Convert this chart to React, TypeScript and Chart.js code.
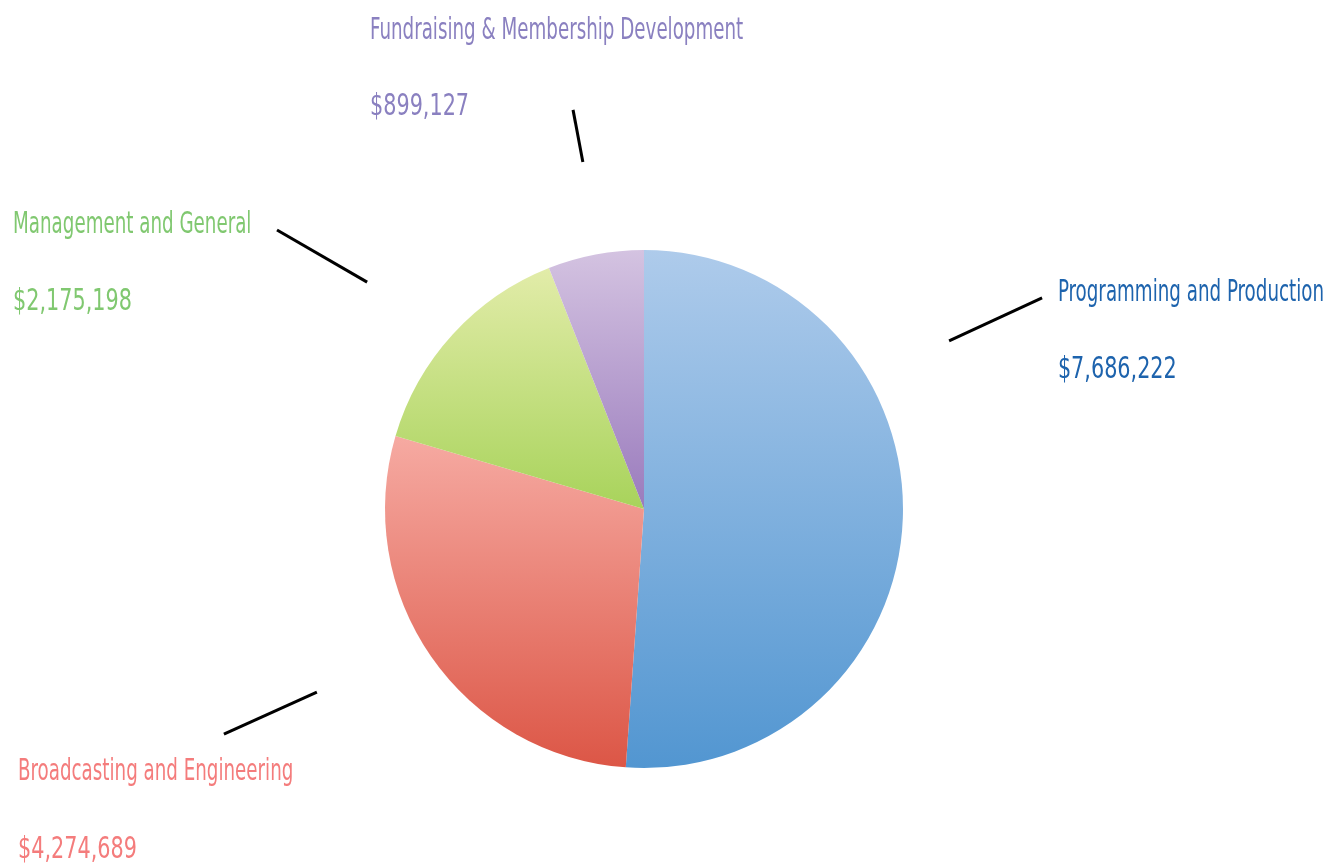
import React, { useEffect, useRef } from "react";
import { Chart, registerables } from "chart.js";

Chart.register(...registerables);

const categories = [
  "Programming and Production",
  "Broadcasting and Engineering",
  "Management and General",
  "Fundraising & Membership Development",
];
const values = [7686222, 4274689, 2175198, 899127];
const valueLabels = ["$7,686,222", "$4,274,689", "$2,175,198", "$899,127"];
const gradientTop = ["#aecbeb", "#f6aaa2", "#e2eca9", "#d4c3e1"];
const gradientBottom = ["#5296d1", "#dc5646", "#a8d35b", "#9a7bbd"];
const textColors = ["#1d63ad", "#f47c7c", "#80c870", "#8a80c0"];

// Leader line & label layout, in units of the pie radius relative to its centre
const leaderLines = [
  [1.178, -0.649, 1.537, -0.815],
  [-1.263, 0.707, -1.622, 0.869],
  [-1.069, -0.876, -1.417, -1.077],
  [-0.236, -1.34, -0.274, -1.541],
];
const labelAnchors = [
  [1.598, -0.803, -0.506],
  [-2.417, 1.046, 1.347],
  [-2.436, -1.066, -0.768],
  [-1.058, -1.815, -1.521],
];

const FONT = '31px "DejaVu Sans Condensed", "DejaVu Sans", sans-serif';
const NAME_SQUEEZE = 0.655;
const VALUE_SQUEEZE = 0.745;

function geometry(chart: any) {
  const a = chart.chartArea;
  const cx = (a.left + a.right) / 2;
  const cy = (a.top + a.bottom) / 2;
  const r = Math.min(a.right - a.left, a.bottom - a.top) / 2;
  return { cx, cy, r };
}

function sliceGradient(context: any) {
  const chart = context.chart;
  const i = context.dataIndex;
  if (!chart.chartArea || i === undefined) return gradientTop[i ?? 0];
  const { cx, cy, r } = geometry(chart);
  const total = values.reduce((s, v) => s + v, 0);
  let start = -Math.PI / 2;
  for (let k = 0; k < i; k++) start += (values[k] / total) * Math.PI * 2;
  const end = start + (values[i] / total) * Math.PI * 2;
  const ys = [cy, cy + r * Math.sin(start), cy + r * Math.sin(end)];
  for (const t of [Math.PI / 2, -Math.PI / 2, (3 * Math.PI) / 2]) {
    if (t >= start && t <= end) ys.push(cy + r * Math.sin(t));
  }
  const y0 = Math.min(...ys);
  const y1 = Math.max(...ys);
  const g = chart.ctx.createLinearGradient(0, y0, 0, y1);
  g.addColorStop(0, gradientTop[i]);
  g.addColorStop(1, gradientBottom[i]);
  return g;
}

const labelPlugin = {
  id: "leaderLabels",
  afterDatasetsDraw(chart: any) {
    const { cx, cy, r } = geometry(chart);
    const ctx = chart.ctx;
    ctx.save();
    ctx.strokeStyle = "#000";
    ctx.lineWidth = 3;
    leaderLines.forEach((l) => {
      ctx.beginPath();
      ctx.moveTo(cx + l[0] * r, cy + l[1] * r);
      ctx.lineTo(cx + l[2] * r, cy + l[3] * r);
      ctx.stroke();
    });
    ctx.font = FONT;
    ctx.textBaseline = "alphabetic";
    ctx.textAlign = "left";
    categories.forEach((name, i) => {
      const [ax, ny, vy] = labelAnchors[i];
      ctx.fillStyle = textColors[i];
      const x = cx + ax * r;
      [
        [name, ny, NAME_SQUEEZE],
        [valueLabels[i], vy, VALUE_SQUEEZE],
      ].forEach(([txt, yy, sq]: any) => {
        ctx.save();
        ctx.translate(x, cy + yy * r);
        ctx.scale(sq, 1);
        ctx.fillText(txt, 0, 0);
        ctx.restore();
      });
    });
    ctx.restore();
  },
};

export default function App() {
  const ref = useRef<HTMLCanvasElement>(null);
  useEffect(() => {
    if (!ref.current) return;
    const chart = new Chart(ref.current, {
      type: "pie",
      data: {
        labels: categories,
        datasets: [
          {
            data: values,
            backgroundColor: sliceGradient as any,
            borderWidth: 0,
          },
        ],
      },
      options: {
        responsive: false,
        animation: false,
        layout: { padding: { top: 250, bottom: 97, left: 385, right: 436 } },
        plugins: { legend: { display: false }, tooltip: { enabled: false } },
      },
      plugins: [labelPlugin],
    });
    return () => chart.destroy();
  }, []);
  return (
    <div style={{ position: "absolute", left: 0, top: 0, width: 1339, height: 865, background: "#fff" }}>
      <canvas ref={ref} width={1339} height={865} />
    </div>
  );
}
